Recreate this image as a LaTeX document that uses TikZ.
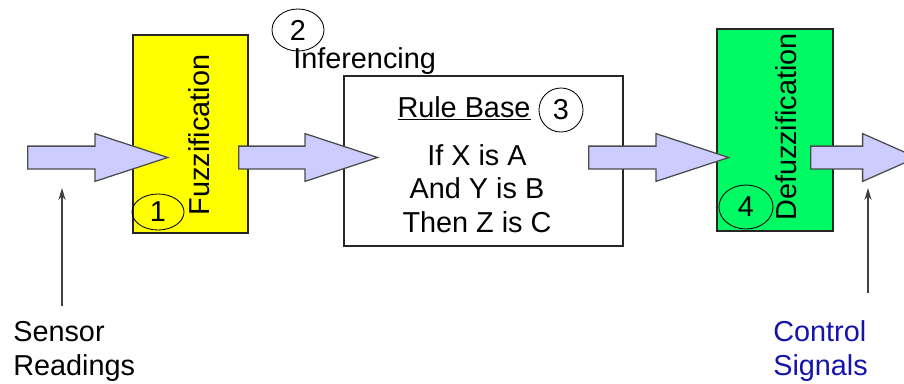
\documentclass[tikz,border=0pt]{standalone}
\usepackage{fontspec}
\setmainfont{Liberation Sans}
\usepackage{xcolor}
\usepackage{tikz}
\usetikzlibrary{shapes,shapes.geometric,shapes.arrows,arrows,arrows.meta,positioning,calc}

\definecolor{fuzzyellow}{RGB}{255,255,0}
\definecolor{defuzzgreen}{RGB}{0,250,100}
\definecolor{flowlilac}{RGB}{204,204,255}
\definecolor{signalblue}{RGB}{20,20,170}

\begin{document}
\begin{tikzpicture}[
    x=0.025cm, y=-0.025cm,
    every node/.style={font=\fontsize{20.5}{23.8}\selectfont},
    stage/.style={rectangle, draw=black!85, line width=1pt, inner sep=0pt},
    num/.style={ellipse, draw=black, line width=0.6pt, inner sep=0pt},
    flow/.style={single arrow, draw=black!70, line width=0.9pt, fill=flowlilac, inner sep=0.26875cm,
        minimum width=1.15cm, single arrow head extend=0.3125cm, single arrow tip angle=36.4},
    pointer/.style={->, >={Stealth[length=0.3cm, width=0.18cm]}, line width=0.8pt, draw=black!75}
]
    \useasboundingbox (0,0) rectangle (904,383);
    \clip (0,0) rectangle (904,383);

    % stages
    \node[stage, fill=fuzzyellow, minimum width=2.875cm, minimum height=4.95cm] (fuzz) at (190.5,134) {};
    \node[stage, fill=white, minimum width=6.975cm, minimum height=4.25cm] (rules) at (483.5,161) {};
    \node[stage, fill=defuzzgreen, minimum width=2.9cm, minimum height=5.05cm] (defuzz) at (775,130) {};

    \node[rotate=90] (fuzztext) at (199.5,135) {Fuzzification};
    \node[rotate=90] (defuzztext) at (786.5,127) {Defuzzification};

    \node[anchor=base west, inner sep=0pt] (infer) at (293,68) {Inferencing};
    \node[anchor=base, inner sep=0pt] (rulebase) at (464,117) {\underline{Rule Base}};
    \node[anchor=base, inner sep=0pt, align=center] (ifthen) at (477,232) {If X is A\\And Y is B\\Then Z is C};

    % numbered steps
    \node[num, minimum width=1.3cm, minimum height=0.9cm] (n1) at (158,212) {1};
    \node[num, minimum width=1.3cm, minimum height=1.05cm] (n2) at (298,30) {2};
    \node[num, minimum width=1.1cm, minimum height=1.1cm] (n3) at (561,110) {3};
    \node[num, minimum width=1.35cm, minimum height=1.1cm] (n4) at (746,207) {4};

    % data flow
    \node[flow, anchor=tail, minimum height=3.5cm] (inflow) at (27,157.5) {};
    \node[flow, anchor=tail, minimum height=3.475cm] (fuzzflow) at (238,157.5) {};
    \node[flow, anchor=tail, minimum height=3.5cm] (ruleflow) at (588,157.5) {};
    \node[flow, anchor=tail, minimum height=2.65cm, single arrow tip angle=47.7] (outflow) at (810,157.5) {};

    % inputs and outputs
    \node[anchor=base west, inner sep=0pt, align=left] (sensor) at (13,375) {Sensor\\Readings};
    \node[anchor=base west, inner sep=0pt, align=left, text=signalblue] (control) at (773,375) {Control\\Signals};

    \coordinate (sensorfoot) at (62,306);
    \coordinate (sensortip) at (62,188);
    \coordinate (controlfoot) at (868,293);
    \coordinate (controltip) at (868,188);
    \draw[pointer] (sensorfoot) -- (sensortip);
    \draw[pointer] (controlfoot) -- (controltip);
\end{tikzpicture}
\end{document}
